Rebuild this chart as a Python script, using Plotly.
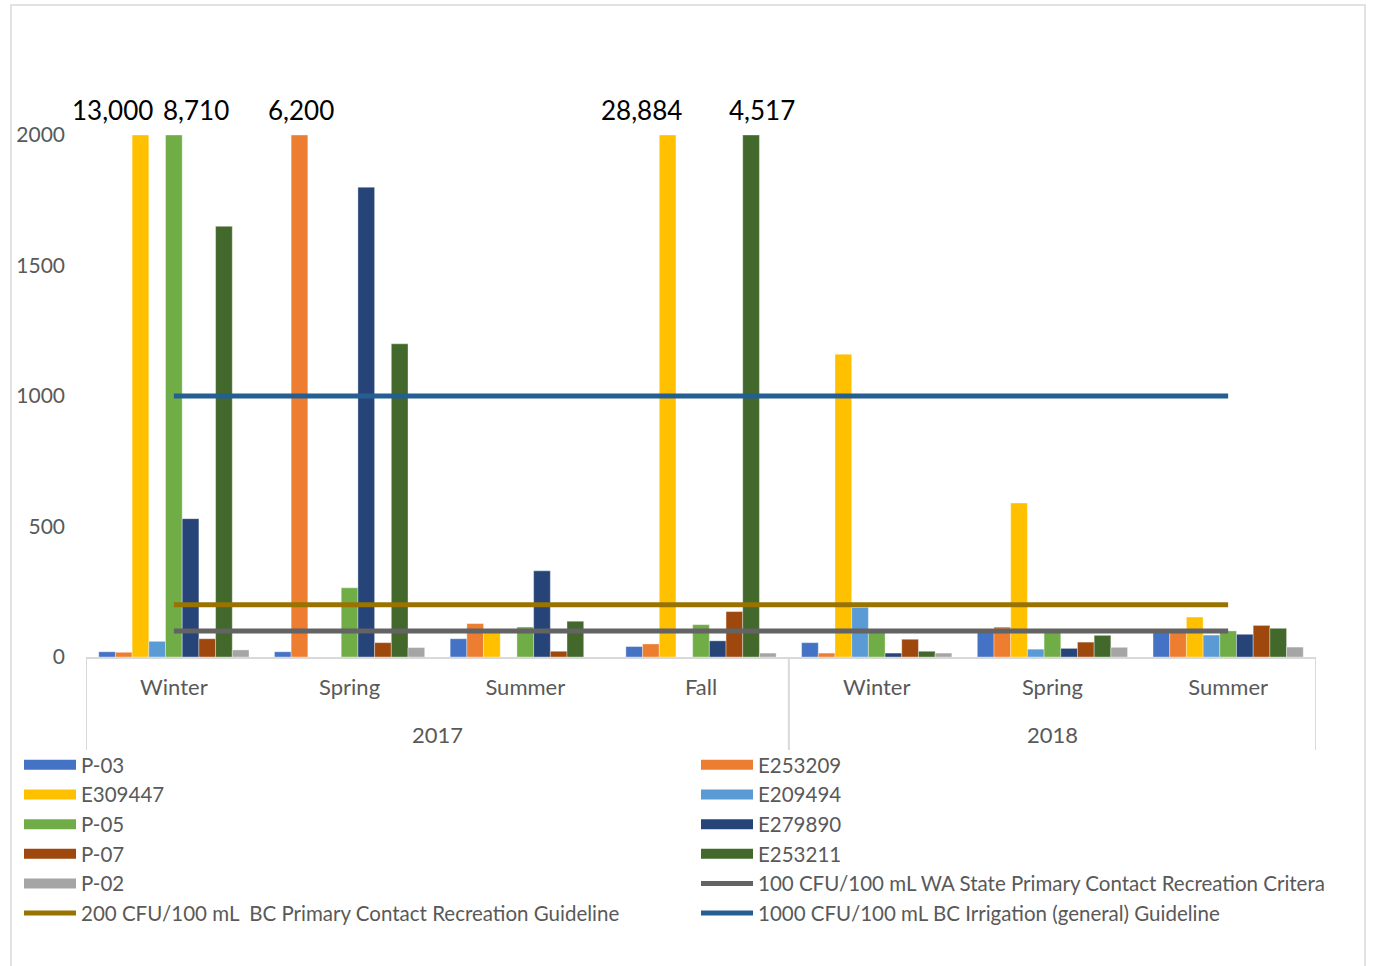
import plotly.graph_objects as go

# ---------------- data ----------------
years = ["2017", "2017", "2017", "2017", "2018", "2018", "2018"]
seasons = ["Winter", "Spring", "Summer", "Fall", "Winter", "Spring", "Summer"]

series_names = ["P-03", "E253209", "E309447", "E209494", "P-05",
                "E279890", "P-07", "E253211", "P-02"]
p03 = [20, 20, 70, 40, 55, 105, 105]
e253209 = [18, 6200, 128, 50, 15, 115, 105]
e309447 = [13000, None, 100, 28884, 1160, 590, 153]
e209494 = [60, None, None, None, 190, 30, 84]
p05 = [8710, 265, 115, 124, 100, 100, 100]
e279890 = [530, 1800, 330, 62, 15, 33, 87]
p07 = [70, 55, 22, 174, 68, 57, 121]
e253211 = [1650, 1200, 137, 4517, 22, 83, 110]
p02 = [27, 36, None, 15, 15, 37, 38]
series_values = [p03, e253209, e309447, e209494, p05, e279890, p07, e253211, p02]
series_colors = ["#4472C4", "#ED7D31", "#FFC000", "#5B9BD5", "#70AD47",
                 "#264478", "#9E480E", "#43682B", "#A5A5A5"]

guide_names = ["100 CFU/100 mL WA State Primary Contact Recreation Critera",
               "200 CFU/100 mL  BC Primary Contact Recreation Guideline",
               "1000 CFU/100 mL BC Irrigation (general) Guideline"]
guide_values = [100, 200, 1000]
guide_colors = ["#636363", "#997300", "#255E91"]

y_max = 2000
y_ticks = [0, 500, 1000, 1500, 2000]

# label horizontal nudges (px) for capped bars, to avoid overlap
label_shift = {(0, 2): -28, (0, 4): 22, (1, 1): 2, (3, 2): -26, (3, 7): 11}

FONT = "Lato"
TXT = "#595959"
GRID = "#d9d9d9"
BARGAP = 0.145

# unique category keys (season + year), displayed with season text only
cats = [f"{s} {y}" for s, y in zip(seasons, years)]
n = len(cats)

fig = go.Figure()

for name, vals, col in zip(series_names, series_values, series_colors):
    capped = [None if v is None else min(v, y_max) for v in vals]
    fig.add_trace(go.Bar(
        x=cats, y=capped, name=name,
        marker=dict(color=col, line=dict(color="rgba(255,255,255,0.6)", width=0.6)),
        showlegend=False, hovertext=[str(v) for v in vals]))

# legend is laid out row-major in two columns -> alternate between two legends
all_entries = [(nm, c, 14, None) for nm, c in zip(series_names, series_colors)] + \
              [(nm, c, 5, v) for nm, c, v in zip(guide_names, guide_colors, guide_values)]
for k, (name, col, lw, val) in enumerate(all_entries):
    lg = "legend" if k % 2 == 0 else "legend2"
    if val is None:
        fig.add_trace(go.Scatter(x=[None], y=[None], mode="lines", name=name,
                                 line=dict(color=col, width=lw), legend=lg))
    else:
        fig.add_trace(go.Scatter(x=cats, y=[val] * n, mode="lines", name=name,
                                 line=dict(color=col, width=lw), legend=lg))

# annotations for capped bars
nb = len(series_names)
w = (1 - BARGAP) / nb
for j, vals in enumerate(series_values):
    for i, v in enumerate(vals):
        if v is not None and v > y_max:
            fig.add_annotation(x=i + (j - (nb - 1) / 2) * w, y=y_max, xref="x", yref="y",
                               text=f"{v:,}", showarrow=False, yanchor="bottom",
                               yshift=7, xshift=label_shift.get((i, j), 0),
                               font=dict(family=FONT, size=26, color="black"))

L, R, T, B = 86, 65, 135, 309
W, H = 1381, 966
pw, ph = W - L - R, H - T - B

# year group labels and dividers
year_order = []
for y in years:
    if y not in year_order:
        year_order.append(y)
bounds = [-0.5]
for y in year_order:
    idx = [i for i, yy in enumerate(years) if yy == y]
    mid = (idx[0] + idx[-1]) / 2
    fig.add_annotation(x=mid, y=(H - B - 734) / ph, xref="x", yref="paper", text=y,
                       showarrow=False, yanchor="middle",
                       font=dict(family=FONT, size=22, color=TXT))
    bounds.append(idx[-1] + 0.5)
for bx in bounds:
    fig.add_shape(type="line", xref="x", yref="paper", x0=bx, x1=bx,
                  y0=0, y1=(H - B - 750) / ph, line=dict(color=GRID, width=2))

fig.add_shape(type="rect", xref="paper", yref="paper",
              x0=(11 - L) / pw, x1=(1365 - L) / pw, y0=(H - B - 975) / ph, y1=(H - B - 5) / ph,
              line=dict(color=GRID, width=1.5), fillcolor="rgba(0,0,0,0)", layer="below")

leg_common = dict(orientation="v", xanchor="left", yanchor="top", itemwidth=52,
                  font=dict(family=FONT, size=20.5, color=TXT), traceorder="normal",
                  bgcolor="rgba(0,0,0,0)", tracegroupgap=0)

fig.update_layout(
    width=W, height=H,
    margin=dict(l=L, r=R, t=T, b=B, autoexpand=False),
    paper_bgcolor="white", plot_bgcolor="white",
    barmode="group", bargap=BARGAP, bargroupgap=0,
    font=dict(family=FONT, size=20, color=TXT),
    showlegend=True,
    legend=dict(x=(19 - L) / pw, y=(H - B - 745) / ph, **leg_common),
    legend2=dict(x=(696 - L) / pw, y=(H - B - 745) / ph, **leg_common),
    xaxis=dict(type="category", range=[-0.5, n - 0.5], tickvals=cats, ticktext=seasons,
               showline=True, linecolor=GRID, linewidth=2,
               showgrid=False, ticks="", ticklabelstandoff=10,
               tickfont=dict(family=FONT, size=22, color=TXT)),
    yaxis=dict(range=[0, y_max], tickvals=y_ticks, showgrid=False, zeroline=False,
               showline=False, ticks="", ticklabelstandoff=20,
               tickfont=dict(family=FONT, size=21, color=TXT)),
)

fig.write_html("out.html")
